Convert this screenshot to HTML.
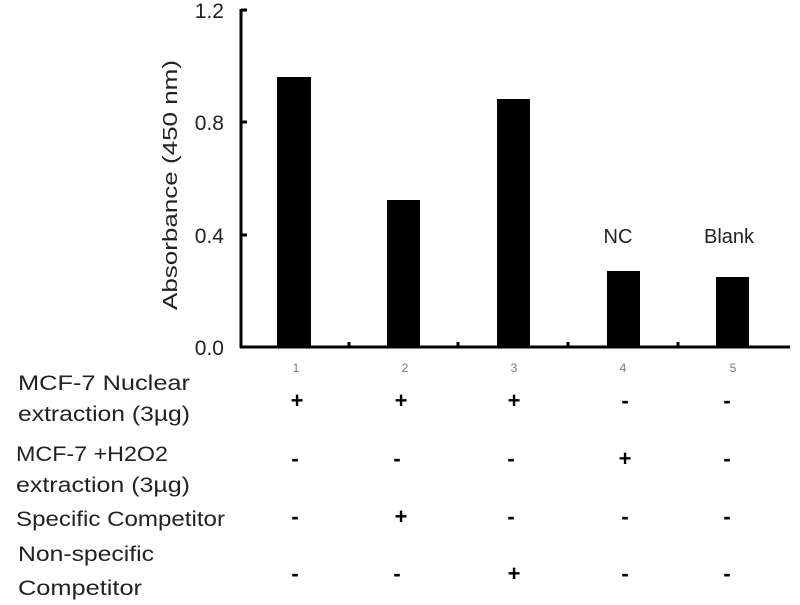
<!DOCTYPE html>
<html><head><style>
body{margin:0;background:#fff;}
svg text{font-family:"Liberation Sans",sans-serif;}
</style></head><body>
<svg width="800" height="600" xmlns="http://www.w3.org/2000/svg">
<g fill="#000">
<rect x="277" y="77" width="34" height="270"/>
<rect x="387" y="200" width="33" height="147"/>
<rect x="497" y="99" width="33" height="248"/>
<rect x="607" y="271" width="33" height="76"/>
<rect x="716" y="277" width="33" height="70"/>
</g>
<g stroke="#000" stroke-width="3" fill="none">
<line x1="241" y1="9" x2="241" y2="348"/>
<line x1="240" y1="347" x2="790" y2="347"/>
<line x1="241" y1="10" x2="247" y2="10"/>
<line x1="241" y1="122" x2="247" y2="122"/>
<line x1="241" y1="235" x2="247" y2="235"/>
<line x1="349" y1="347" x2="349" y2="342"/>
<line x1="458" y1="347" x2="458" y2="342"/>
<line x1="568" y1="347" x2="568" y2="342"/>
<line x1="678" y1="347" x2="678" y2="342"/>
</g>
<g font-size="21" fill="#222" text-anchor="end">
<text x="224" y="18">1.2</text>
<text x="224" y="130">0.8</text>
<text x="224" y="243">0.4</text>
<text x="224" y="355">0.0</text>
</g>
<text transform="translate(177,185) rotate(-90)" font-size="20" text-anchor="middle" fill="#222" textLength="250" lengthAdjust="spacingAndGlyphs">Absorbance (450 nm)</text>
<text x="618" y="243" font-size="20" text-anchor="middle" fill="#222">NC</text>
<text x="729" y="243" font-size="20" text-anchor="middle" fill="#222">Blank</text>
<g font-size="12" fill="#777" text-anchor="middle">
<text x="296" y="372">1</text><text x="405" y="372">2</text><text x="514" y="372">3</text><text x="623" y="372">4</text><text x="733" y="372">5</text>
</g>
<g font-size="21" fill="#222" lengthAdjust="spacingAndGlyphs">
<text x="18" y="390" textLength="172" lengthAdjust="spacingAndGlyphs">MCF-7 Nuclear</text>
<text x="18" y="421" textLength="172" lengthAdjust="spacingAndGlyphs">extraction (3µg)</text>
<text x="16" y="461" textLength="152" lengthAdjust="spacingAndGlyphs">MCF-7 +H2O2</text>
<text x="16" y="492" textLength="174" lengthAdjust="spacingAndGlyphs">extraction (3µg)</text>
<text x="16" y="526" textLength="209" lengthAdjust="spacingAndGlyphs">Specific Competitor</text>
<text x="18" y="561" textLength="136" lengthAdjust="spacingAndGlyphs">Non-specific</text>
<text x="18" y="595" textLength="124" lengthAdjust="spacingAndGlyphs">Competitor</text>
</g>
<g font-size="22" font-weight="bold" fill="#000" text-anchor="middle">
<text x="297" y="408">+</text><text x="401" y="408">+</text><text x="514" y="408">+</text><text x="625" y="408">-</text><text x="727" y="408">-</text>
<text x="295" y="466">-</text><text x="397" y="466">-</text><text x="511" y="466">-</text><text x="625" y="466">+</text><text x="727" y="466">-</text>
<text x="295" y="524">-</text><text x="401" y="524">+</text><text x="511" y="524">-</text><text x="625" y="524">-</text><text x="727" y="524">-</text>
<text x="295" y="581">-</text><text x="397" y="581">-</text><text x="514" y="581">+</text><text x="625" y="581">-</text><text x="727" y="581">-</text>
</g>
</svg>
</body></html>
